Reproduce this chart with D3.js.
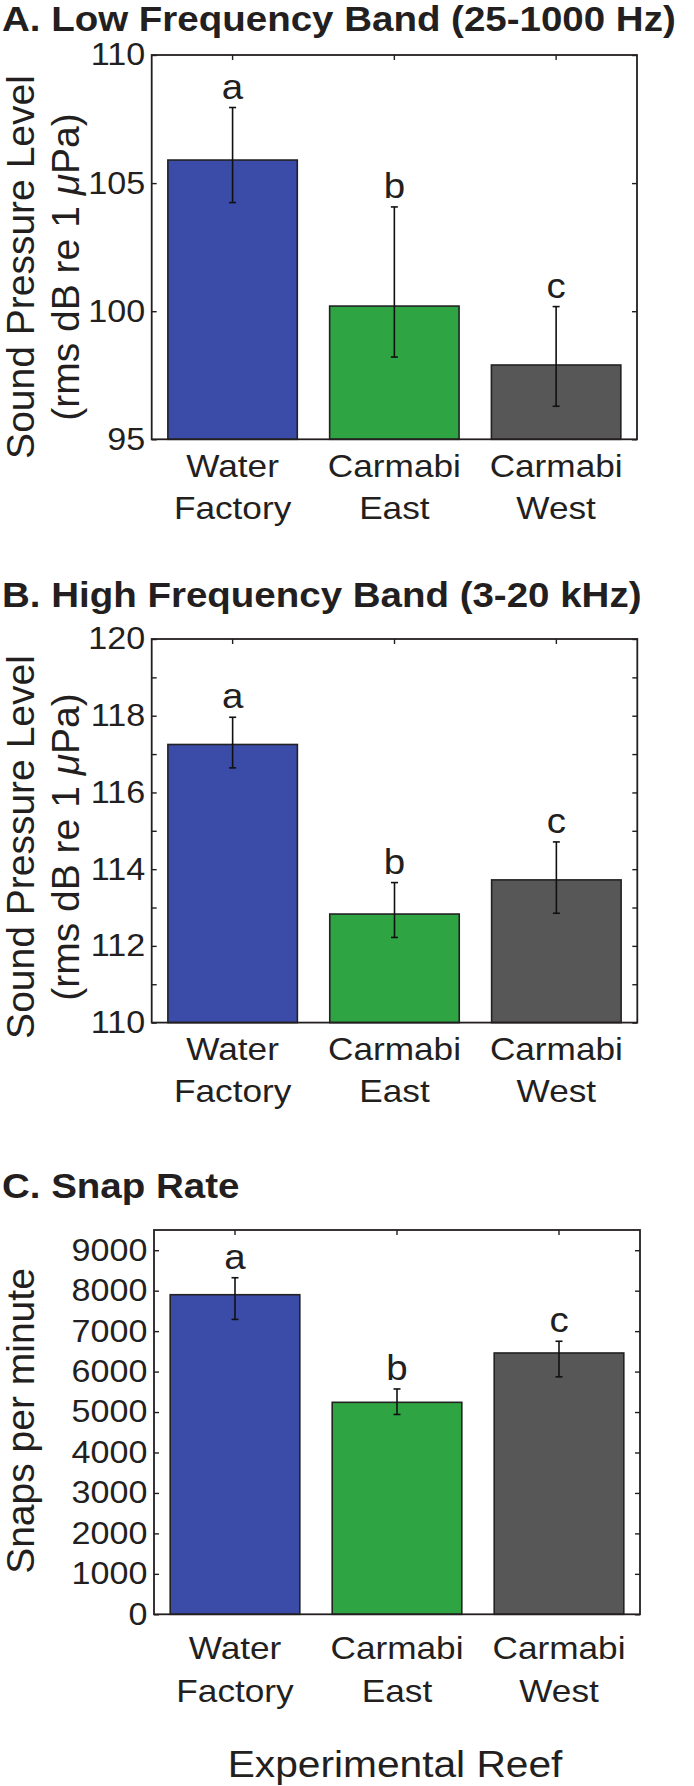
<!DOCTYPE html>
<html>
<head>
<meta charset="utf-8">
<title>Reef sound levels</title>
<style>
  body { margin: 0; background: #fff; }
  text { font-family: "Liberation Sans", Arial, Helvetica, sans-serif; fill: #231f20; }
</style>
</head>
<body>
<script src="https://cdn.jsdelivr.net/npm/d3@7"></script>
<script>
// sites on the x axis (two lines each)
var sites = ["Water Factory", "Carmabi East", "Carmabi West"];
var siteLines = [["Water", "Factory"], ["Carmabi", "East"], ["Carmabi", "West"]];
var letters = ["a", "b", "c"];
var colors = ["#3a4ca8", "#2ea443", "#575757"];

// A. low frequency band
var lowMean  = [105.9, 100.2, 97.9];
var lowUpper = [107.95, 104.07, 100.18];
var lowLower = [104.24, 98.21, 96.29];
var lowTicks = [95, 100, 105, 110];

// B. high frequency band
var highMean  = [117.25, 112.83, 113.72];
var highUpper = [117.96, 113.65, 114.71];
var highLower = [116.64, 112.22, 112.85];
var highTicks = [110, 112, 114, 116, 118, 120];
var highMinor = [111, 113, 115, 117, 119];

// C. snap rate
var snapMean  = [7900, 5240, 6460];
var snapUpper = [8320, 5570, 6750];
var snapLower = [7290, 4940, 5870];
var snapTicks = [0, 1000, 2000, 3000, 4000, 5000, 6000, 7000, 8000, 9000];

var SX = 1.1;   // text in the figure is a bit wider than Helvetica

var svg = d3.select("body").append("svg")
    .attr("width", 694)
    .attr("height", 1786);

function htext(g, x, y, str, size, anchor, weight) {
  return g.append("text")
      .attr("transform", "translate(" + x + "," + y + ") scale(" + SX + ",1)")
      .attr("text-anchor", anchor || "start")
      .style("font-size", size + "px")
      .style("font-weight", weight || "normal")
      .text(str);
}

var panels = [
  { title: "A. Low Frequency Band (25-1000 Hz)", titleY: 31,
    left: 151.7, right: 637, top: 55, bottom: 439.3, domain: [95, 110],
    mean: lowMean, upper: lowUpper, lower: lowLower, ticks: lowTicks, minor: [],
    ylab: ["Sound Pressure Level", "(rms dB re 1 ", "Pa)"], ylabY: 267, catY: 37.4 },
  { title: "B. High Frequency Band (3-20 kHz)", titleY: 607,
    left: 151.7, right: 637.3, top: 639, bottom: 1022.6, domain: [110, 120],
    mean: highMean, upper: highUpper, lower: highLower, ticks: highTicks, minor: highMinor,
    ylab: ["Sound Pressure Level", "(rms dB re 1 ", "Pa)"], ylabY: 847, catY: 37.3 },
  { title: "C. Snap Rate", titleY: 1198.3,
    left: 154, right: 640, top: 1230, bottom: 1614.3, domain: [0, 9500],
    mean: snapMean, upper: snapUpper, lower: snapLower, ticks: snapTicks, minor: [],
    ylab: ["Snaps per minute"], ylabY: 1421, catY: 44.7 }
];

panels.forEach(function (p) {
  var x = d3.scaleBand()
      .domain(sites)
      .range([p.left, p.right])
      .paddingInner(0.2)
      .paddingOuter(0.1);
  var y = d3.scaleLinear().domain(p.domain).range([p.bottom, p.top]);

  htext(svg, 2, p.titleY, p.title, 35, "start", "bold");

  // y label (rotated)
  var yl = svg.append("text")
      .attr("transform", "translate(34," + p.ylabY + ") rotate(-90)")
      .attr("text-anchor", "middle")
      .style("font-size", "39px");
  yl.text(p.ylab[0]);
  if (p.ylab.length > 1) {
    var yl2 = svg.append("text")
        .attr("transform", "translate(79," + p.ylabY + ") rotate(-90)")
        .attr("text-anchor", "middle")
        .style("font-size", "39px");
    yl2.append("tspan").text(p.ylab[1]);
    yl2.append("tspan").style("font-style", "italic").text("\u03bc");
    yl2.append("tspan").text(p.ylab[2]);
  }

  var data = sites.map(function (s, i) {
    return { site: s, mean: p.mean[i], up: p.upper[i], lo: p.lower[i], i: i };
  });

  // bars
  svg.append("g").selectAll("rect")
    .data(data)
    .enter().append("rect")
      .attr("x", function (d) { return x(d.site); })
      .attr("width", x.bandwidth())
      .attr("y", function (d) { return y(d.mean); })
      .attr("height", function (d) { return p.bottom - y(d.mean); })
      .style("fill", function (d) { return colors[d.i]; })
      .style("stroke", "#222")
      .style("stroke-width", 1.6);

  // error bars
  var eb = svg.append("g").selectAll("g")
    .data(data)
    .enter().append("g")
      .style("stroke", "#111")
      .style("stroke-width", 1.6);
  eb.append("line")
      .attr("x1", function (d) { return x(d.site) + x.bandwidth() / 2; })
      .attr("x2", function (d) { return x(d.site) + x.bandwidth() / 2; })
      .attr("y1", function (d) { return y(d.lo); })
      .attr("y2", function (d) { return y(d.up); });
  ["up", "lo"].forEach(function (k) {
    eb.append("line")
        .attr("x1", function (d) { return x(d.site) + x.bandwidth() / 2 - 3.5; })
        .attr("x2", function (d) { return x(d.site) + x.bandwidth() / 2 + 3.5; })
        .attr("y1", function (d) { return y(d[k]); })
        .attr("y2", function (d) { return y(d[k]); });
  });

  // significance letters
  data.forEach(function (d) {
    htext(svg, x(d.site) + x.bandwidth() / 2, y(d.up) - 9, letters[d.i], 35, "middle");
  });

  // axes box
  svg.append("rect")
      .attr("x", p.left).attr("y", p.top)
      .attr("width", p.right - p.left).attr("height", p.bottom - p.top)
      .style("fill", "none")
      .style("stroke", "#231f20")
      .style("stroke-width", 1.8);

  var axL = svg.append("g")
      .attr("transform", "translate(" + p.left + ",0)")
      .call(d3.axisLeft(y).tickValues(p.ticks).tickSize(-5).tickPadding(6).tickFormat(d3.format("d")));
  axL.selectAll("text")
      .attr("transform", "scale(" + SX + ",1)")
      .style("font-size", "31px")
      .style("fill", "#231f20");

  svg.append("g")
      .attr("transform", "translate(" + p.right + ",0)")
      .call(d3.axisRight(y).tickValues(p.ticks.concat(p.minor)).tickSize(-5).tickFormat(""));

  if (p.minor.length) {
    svg.append("g")
        .attr("transform", "translate(" + p.left + ",0)")
        .call(d3.axisLeft(y).tickValues(p.minor).tickSize(-5).tickFormat(""));
  }

  svg.append("g")
      .attr("transform", "translate(0," + p.top + ")")
      .call(d3.axisTop(x).tickSize(-5).tickFormat(""));

  svg.selectAll(".domain").remove();
  svg.selectAll(".tick line").style("stroke", "#231f20").style("stroke-width", 1.4);

  // site labels
  data.forEach(function (d) {
    var cx = x(d.site) + x.bandwidth() / 2;
    htext(svg, cx, p.bottom + p.catY, siteLines[d.i][0], 32, "middle");
    htext(svg, cx, p.bottom + p.catY + 42.5, siteLines[d.i][1], 32, "middle");
  });
});

htext(svg, 395, 1776.7, "Experimental Reef", 37, "middle");
</script>
</body>
</html>
